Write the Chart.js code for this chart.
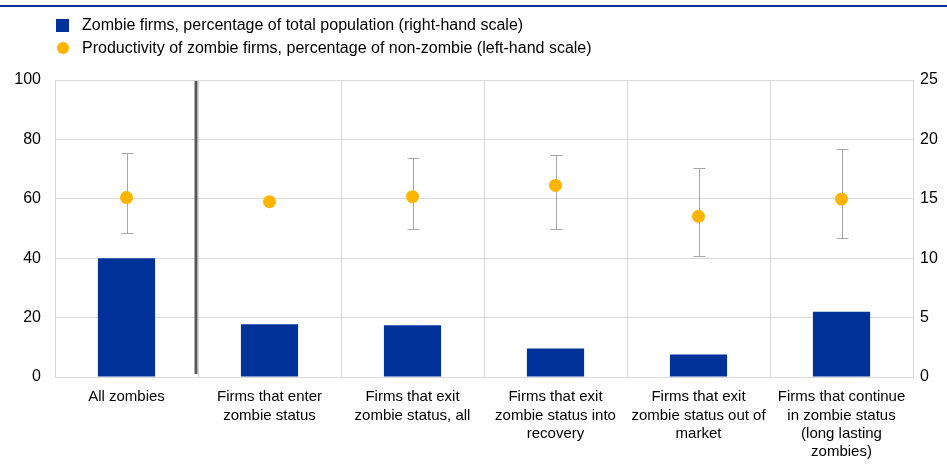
<!DOCTYPE html>
<html><head><meta charset="utf-8">
<script src="https://cdn.jsdelivr.net/npm/chart.js@4/dist/chart.umd.min.js"></script>
<style>
html,body{margin:0;padding:0;background:#fff;}
#wrap{position:relative;width:947px;height:474px;font-family:"Liberation Sans",Arial,sans-serif;}
#rule{position:absolute;left:0;top:5px;width:947px;height:2px;background:#003299;}
#legend{position:absolute;left:56px;top:14px;font-size:16px;color:#000;}
.li{display:flex;align-items:center;height:22.5px;}
.sq{width:13px;height:13px;background:#003299;margin-right:13px;flex:none;}
.ci{width:12px;height:12px;border-radius:50%;background:#FFB400;margin-left:0.5px;margin-right:13.5px;flex:none;}
canvas{position:absolute;left:0;top:0;}
</style></head>
<body>
<div id="wrap">
<canvas id="c" width="947" height="474"></canvas>
<div id="rule"></div>
<div id="legend">
<div class="li"><span class="sq"></span><span>Zombie firms, percentage of total population (right-hand scale)</span></div>
<div class="li"><span class="ci"></span><span>Productivity of zombie firms, percentage of non-zombie (left-hand scale)</span></div>
</div>
</div>
<script>
const categories = [
  ["All zombies"],
  ["Firms that enter", "zombie status"],
  ["Firms that exit", "zombie status, all"],
  ["Firms that exit", "zombie status into", "recovery"],
  ["Firms that exit", "zombie status out of", "market"],
  ["Firms that continue", "in zombie status", "(long lasting", "zombies)"]
];
const zombieShare = [10.0, 4.45, 4.35, 2.4, 1.9, 5.5];
const productivity = [60.4, 59.0, 60.7, 64.5, 54.1, 59.9];
const productivityHigh = [75.3, null, 73.7, 74.6, 70.4, 76.7];
const productivityLow = [48.5, null, 49.8, 49.8, 40.8, 46.8];

const extras = {
  id: 'extras',
  beforeDatasetsDraw(chart) {
    const ctx = chart.ctx, x = chart.scales.x, y = chart.scales.y, a = chart.chartArea;
    ctx.save();
    const sx = (x.getPixelForValue(0) + x.getPixelForValue(1)) / 2 - 2;
    ctx.strokeStyle = '#595959';
    ctx.lineWidth = 3;
    ctx.beginPath();
    ctx.moveTo(sx, a.top + 1);
    ctx.lineTo(sx, a.bottom - 3);
    ctx.stroke();
    ctx.strokeStyle = '#a6a6a6';
    ctx.lineWidth = 1;
    productivityHigh.forEach((h, i) => {
      if (h == null) return;
      const px = Math.round(x.getPixelForValue(i)) + 0.5;
      const yt = Math.round(y.getPixelForValue(h)) + 0.5;
      const yb = Math.round(y.getPixelForValue(productivityLow[i])) + 0.5;
      ctx.beginPath();
      ctx.moveTo(px, yt); ctx.lineTo(px, yb);
      ctx.moveTo(px - 6, yt); ctx.lineTo(px + 6, yt);
      ctx.moveTo(px - 6, yb); ctx.lineTo(px + 6, yb);
      ctx.stroke();
    });
    ctx.restore();
  }
};

const fontX = {family: '"Liberation Sans", Arial, sans-serif', size: 15, lineHeight: 1.22};
const fontY = {family: '"Liberation Sans", Arial, sans-serif', size: 16};
new Chart(document.getElementById('c'), {
  data: {
    labels: categories,
    datasets: [
      {type: 'line', label: 'Productivity', data: productivity, yAxisID: 'y', showLine: false,
       pointRadius: 6.5, pointBackgroundColor: '#FFB400', pointBorderWidth: 0, order: 1},
      {type: 'bar', label: 'Zombie share', data: zombieShare, yAxisID: 'y2',
       backgroundColor: '#003299', barPercentage: 0.4, categoryPercentage: 1, order: 2}
    ]
  },
  options: {
    responsive: false,
    animation: false,
    layout: {padding: {top: 80, left: 0, right: 0, bottom: 0}},
    plugins: {legend: {display: false}, tooltip: {enabled: false}},
    scales: {
      x: {
        type: 'category', offset: true,
        grid: {offset: true, color: '#d9d9d9', drawTicks: false},
        border: {color: '#d9d9d9'},
        ticks: {font: fontX, color: '#000', padding: 11, maxRotation: 0, autoSkip: false},
        afterFit: s => { s.height = 97; }
      },
      y: {
        position: 'left', min: 0, max: 100,
        ticks: {stepSize: 20, font: fontY, color: '#000', padding: 14},
        grid: {color: '#d9d9d9', drawTicks: false},
        border: {color: '#d9d9d9'},
        afterFit: s => { s.width = 55; }
      },
      y2: {
        position: 'right', min: 0, max: 25,
        ticks: {stepSize: 5, font: fontY, color: '#000', padding: 7},
        grid: {drawOnChartArea: false, drawTicks: false},
        border: {color: '#d9d9d9'},
        afterFit: s => { s.width = 34; }
      }
    }
  },
  plugins: [extras]
});
</script>
</body></html>
